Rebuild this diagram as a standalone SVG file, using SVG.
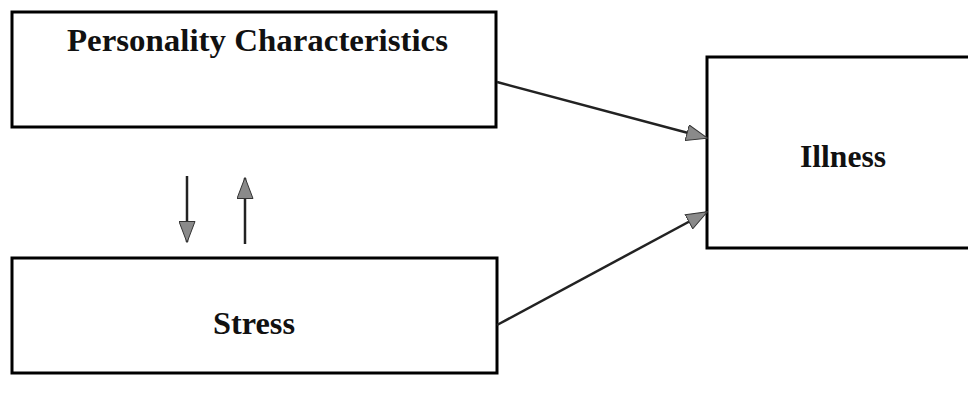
<svg xmlns="http://www.w3.org/2000/svg" width="968" height="400" viewBox="0 0 968 400">
<style>
.box{fill:#fff;stroke:#000;stroke-width:3}
.lbl{font-family:"Liberation Serif","Times New Roman",serif;font-weight:bold;font-size:32px;fill:#111}
.conn{stroke:#222;stroke-width:2.5;fill:none}
</style>
<defs>
<marker id="ah" viewBox="0 0 22 17" refX="21" refY="8.5" markerWidth="22" markerHeight="17" markerUnits="userSpaceOnUse" orient="auto">
<path d="M0.5,0.5 L21.5,8.5 L0.5,16.5 Z" fill="#8a8a8a" stroke="#333" stroke-width="1"/>
</marker>
</defs>
<rect width="968" height="400" fill="#fff"/>
<g id="personality">
<rect class="box" x="12" y="12" width="484" height="115"/>
<text class="lbl" x="67" y="51" textLength="381" lengthAdjust="spacingAndGlyphs">Personality Characteristics</text>
</g>
<g id="stress">
<rect class="box" x="12" y="258" width="485" height="115"/>
<text class="lbl" x="213" y="334" textLength="82" lengthAdjust="spacingAndGlyphs">Stress</text>
</g>
<g id="illness">
<rect class="box" x="707" y="57" width="270" height="191"/>
<text class="lbl" x="800" y="167" textLength="86" lengthAdjust="spacingAndGlyphs">Illness</text>
</g>
<g id="connectors">
<line class="conn" x1="187" y1="176" x2="187" y2="242" marker-end="url(#ah)"/>
<line class="conn" x1="245" y1="244" x2="245" y2="178" marker-end="url(#ah)"/>
<line class="conn" x1="497" y1="82" x2="707" y2="138" marker-end="url(#ah)"/>
<line class="conn" x1="497" y1="325" x2="707" y2="212" marker-end="url(#ah)"/>
</g>
</svg>
